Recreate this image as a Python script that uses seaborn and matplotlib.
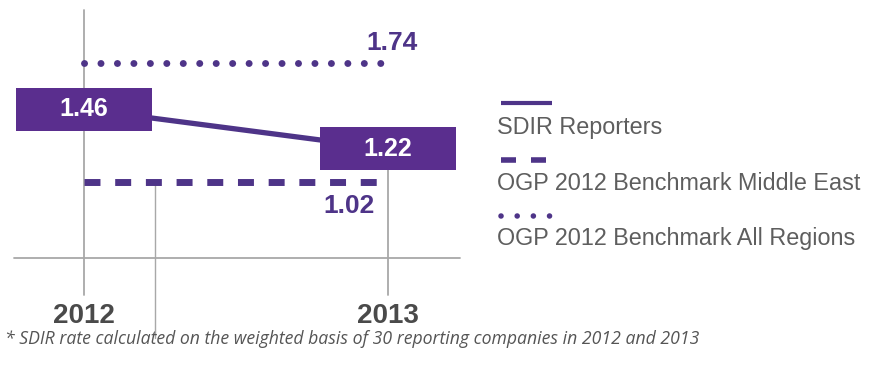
import matplotlib
matplotlib.use("Agg")
import matplotlib.pyplot as plt
from matplotlib.patches import Rectangle
from matplotlib.lines import Line2D
import pandas as pd
import seaborn as sns

# Data
years = [2012, 2013]
sdir_rate = [1.46, 1.22]
bench_middle_east = [1.02, 1.02]
bench_all_regions = [1.74, 1.74]
year_labels = ["2012", "2013"]
legend_labels = ["SDIR Reporters", "OGP 2012 Benchmark Middle East", "OGP 2012 Benchmark All Regions"]
footnote = "* SDIR rate calculated on the weighted basis of 30 reporting companies in 2012 and 2013"

PURPLE = "#4e3488"
BOX = "#5a2e8e"
GRID = "#a8a8a8"

sns.set_theme(style="white")
plt.rcParams["font.family"] = ["Liberation Sans", "DejaVu Sans"]

W, H, DPI = 870, 366, 100
fig = plt.figure(figsize=(W / DPI, H / DPI), dpi=DPI)
ax = fig.add_axes([0, 0, 1, 1])
ax.set_axis_off()

# axis scales: 304 px per year, 165 px per unit of rate
px_year, px_unit = 304.0, 165.0
x0_px, ref_val, ref_px = 84.0, 1.74, 63.0
ax.set_xlim(2012 - x0_px / px_year, 2012 + (W - x0_px) / px_year)
ax.set_ylim(ref_val - (H - ref_px) / px_unit, ref_val + ref_px / px_unit)

def px_to_y(py):
    return ref_val - (py - ref_px) / px_unit

def px_to_x(px):
    return 2012 + (px - x0_px) / px_year

# frame: verticals at each year, baseline
ax.plot([years[0], years[0]], [px_to_y(295), px_to_y(10)], color=GRID, lw=1.3, zorder=1)
ax.plot([years[1], years[1]], [px_to_y(295), px_to_y(160)], color=GRID, lw=1.3, zorder=1)
ax.plot([px_to_x(155)] * 2, [px_to_y(338), px_to_y(180)], color=GRID, lw=1.0, zorder=1)
ax.plot([px_to_x(14), px_to_x(460)], [px_to_y(258)] * 2, color=GRID, lw=1.3, zorder=1)

df = pd.DataFrame({"year": years, "sdir": sdir_rate,
                   "me": bench_middle_east, "all": bench_all_regions})

# benchmark lines
sns.lineplot(data=df, x="year", y="all", ax=ax, color=PURPLE, lw=5.0,
             linestyle=(0, (0.01, 2.36)), dash_capstyle="round", zorder=2)
sns.lineplot(data=df, x="year", y="me", ax=ax, color=PURPLE, lw=5.0,
             linestyle=(0, (2.3, 2.12)), dash_capstyle="butt", zorder=2)
# SDIR line
sns.lineplot(data=df, x="year", y="sdir", ax=ax, color=PURPLE, lw=3.8, zorder=3)

# value boxes
bw, bh = 136 / px_year, 43 / px_unit
for yr, v in zip(years, sdir_rate):
    ax.add_patch(Rectangle((yr - bw / 2, v - bh / 2), bw, bh, facecolor=BOX,
                           edgecolor="none", zorder=4))
    ax.text(yr, v, f"{v:.2f}", color="white", fontsize=18, fontweight="bold",
            ha="center", va="center", zorder=5)

# benchmark value labels
ax.text(px_to_x(392), bench_all_regions[1] + 20 / px_unit,
        f"{bench_all_regions[1]:.2f}", color=PURPLE, fontsize=19, fontweight="bold",
        ha="center", va="center")
ax.text(px_to_x(349), bench_middle_east[1] - 24 / px_unit,
        f"{bench_middle_east[1]:.2f}", color=PURPLE, fontsize=19, fontweight="bold",
        ha="center", va="center")

# year labels
for yr, lab in zip(years, year_labels):
    ax.text(yr, px_to_y(316), lab, color="#4a4a4a", fontsize=20, fontweight="bold",
            ha="center", va="center")

# legend
def fx(px):
    return px / W

def fy(py):
    return 1 - py / H

keys = [
    dict(ls="-", lw=3.0, cap="butt", y=103, x1=552),
    dict(ls=(0, (2.7, 2.7)), lw=4.0, cap="butt", y=160, x1=549),
    dict(ls=(0, (0.01, 2.9)), lw=4.0, cap="round", y=216, x1=553),
]
label_y = [128, 183, 239]
for k, lab, ly in zip(keys, legend_labels, label_y):
    fig.add_artist(Line2D([fx(501), fx(k["x1"])], [fy(k["y"])] * 2, color=PURPLE,
                          lw=k["lw"], linestyle=k["ls"], dash_capstyle=k["cap"],
                          solid_capstyle="butt"))
    fig.text(fx(497), fy(ly), lab, color="#5e5e5e", fontsize=16.8,
             ha="left", va="center")

fig.text(fx(5), fy(339), footnote, color="#555555", fontsize=12.7, style="italic",
         family=["Open Sans", "DejaVu Sans"], ha="left", va="center")

fig.savefig("out.png", dpi=DPI)
